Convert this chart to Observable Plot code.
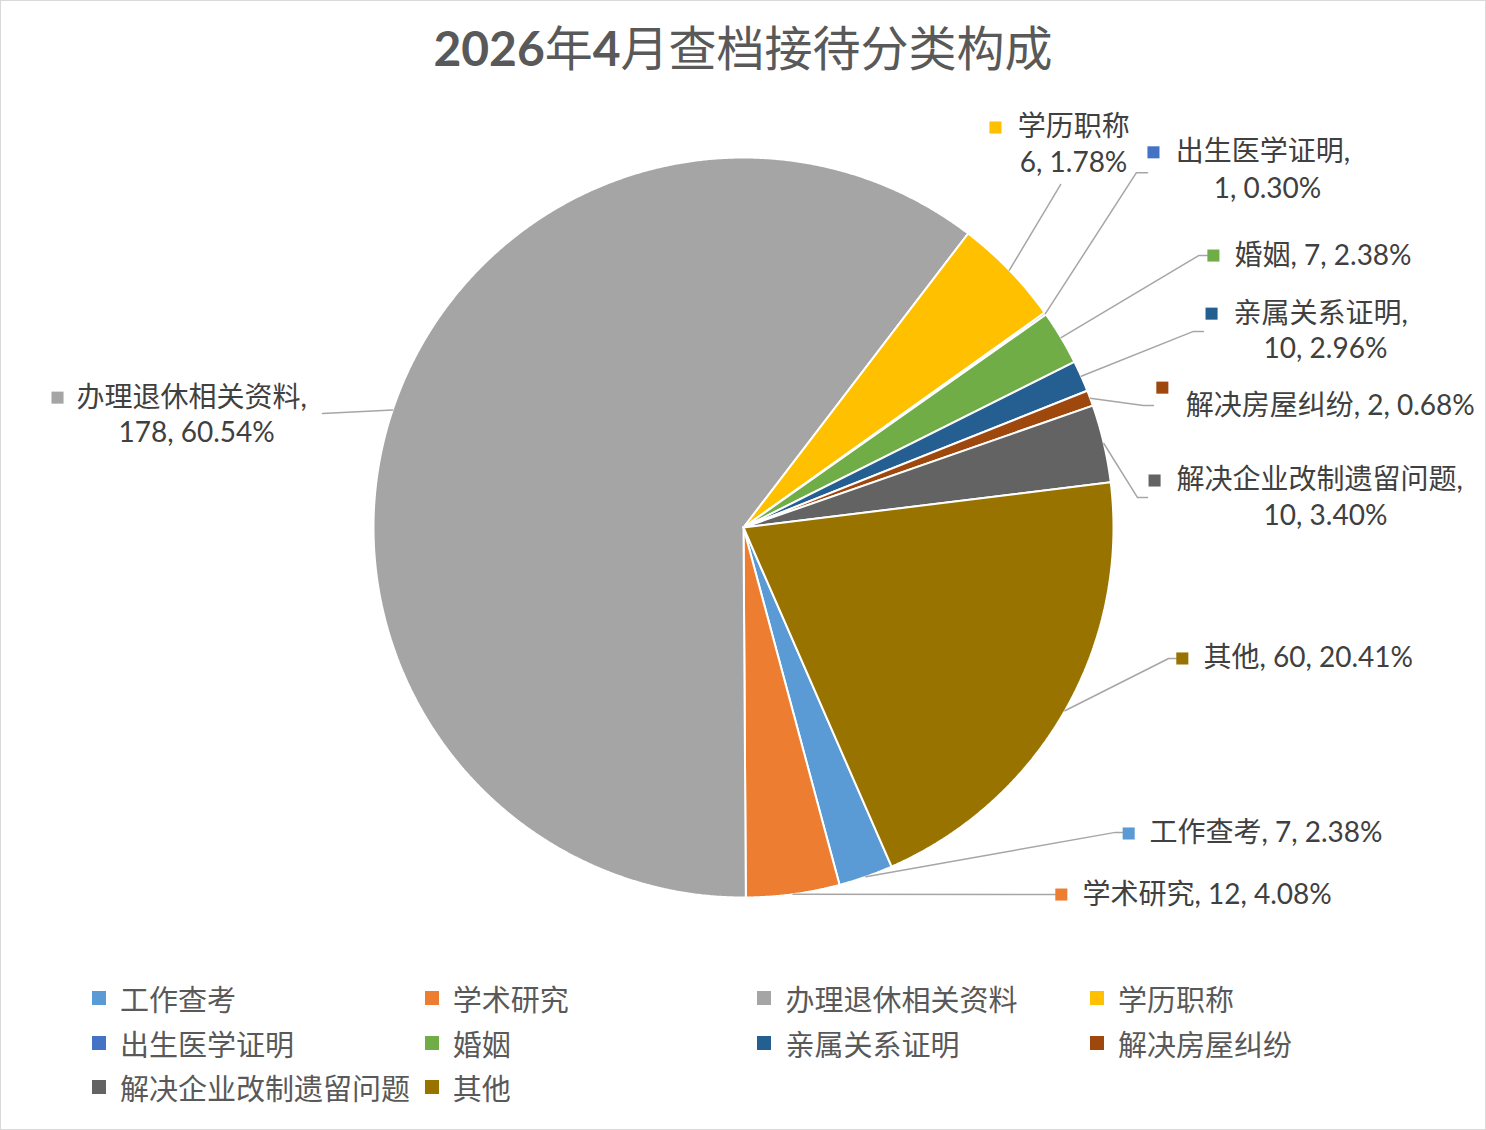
<!DOCTYPE html>
<html>
<head>
<meta charset="utf-8">
<script src="https://cdn.jsdelivr.net/npm/d3@7"></script>
<script src="https://cdn.jsdelivr.net/npm/@observablehq/plot@0.6"></script>
<style>
  body { margin: 0; background: #fff; }
  #chart { position: relative; width: 1486px; height: 1130px; background: #fff; overflow: hidden;
           box-shadow: inset 0 0 0 1px #d9d9d9; font-family: Lato, "Noto Sans CJK SC", sans-serif; }
  #title { position: absolute; left: 0; top: 0; width: 100%; height: 90px; line-height: 90px; text-align: center;
           font-size: 48px; color: #595959; font-family: "Noto Sans CJK SC", sans-serif; font-weight: 400; white-space: nowrap; }
  #title .num { font-family: Lato, "Noto Sans CJK SC", sans-serif; font-weight: 700; }
  #plot { position: absolute; left: 0; top: 95px; }
  #legend { position: absolute; left: 92px; top: 976px; display: grid; grid-template-columns: repeat(4, 332.7px);
            grid-auto-rows: 44.5px; }
  .item { display: flex; align-items: center; font-size: 29px; color: #595959; white-space: nowrap;
          font-family: "Noto Sans CJK SC", sans-serif; }
  .sw { width: 14px; height: 14px; margin-right: 14px; flex: none; }
</style>
</head>
<body>
<div id="chart">
  <div id="title"></div>
  <div id="plot"></div>
  <div id="legend"></div>
</div>
<script>
// ---------- data ----------
const titleText = "2026年4月查档接待分类构成";
const categories = ["工作查考", "学术研究", "办理退休相关资料", "学历职称", "出生医学证明",
                    "婚姻", "亲属关系证明", "解决房屋纠纷", "解决企业改制遗留问题", "其他"];
// counts and percentages as printed in the data labels
const labelCounts = [7, 12, 178, 6, 1, 7, 10, 2, 10, 60];
const labelPercents = ["2.38%", "4.08%", "60.54%", "1.78%", "0.30%", "2.38%", "2.96%", "0.68%", "3.40%", "20.41%"];
// share of the circle each slice actually occupies in the picture (percent)
const sliceShares = [2.38, 4.08, 60.54, 4.76, 0.1, 2.38, 1.36, 0.68, 3.40, 20.41];
const colors = ["#5B9BD5", "#ED7D31", "#A5A5A5", "#FFC000", "#4472C4",
                "#70AD47", "#255E91", "#9E480E", "#636363", "#997300"];
const firstSliceAngle = 156.4; // degrees, clockwise from 12 o'clock

// ---------- label layout (in pie-radius units, centre = 0,0) ----------
// text: start of first line; line2: centre of second line (two-line labels); key: legend-key square;
// leader: bend + end of the leader line (it starts on the slice edge at the slice's mid angle)
const labelLayout = [
  { text: [1.097, -0.827], key: [1.041, -0.827], leader: [[1.005, -0.824], [1.024, -0.824]] },
  { text: [0.916, -0.992], key: [0.859, -0.992], leader: [[0.843, -0.992]] },
  { text: [-1.803, 0.351], line2: [-1.478, 0.254], key: [-1.854, 0.351], leader: [[-1.138, 0.308]] },
  { text: [0.741, 1.081], line2: [0.892, 0.984], key: [0.681, 1.081], leader: [[0.857, 0.927]], noComma: true },
  { text: [1.168, 1.014], line2: [1.416, 0.916], key: [1.108, 1.014], leader: [[1.062, 0.959], [1.092, 0.959]] },
  { text: [1.327, 0.735], key: [1.270, 0.735], leader: [[1.230, 0.735], [1.254, 0.735]] },
  { text: [1.324, 0.578], line2: [1.573, 0.481], key: [1.265, 0.578], leader: [[1.216, 0.530], [1.243, 0.530]] },
  { text: [1.195, 0.327], key: [1.132, 0.378], leader: [[1.081, 0.330], [1.108, 0.330]] },
  { text: [1.170, 0.127], line2: [1.573, 0.030], key: [1.111, 0.127], leader: [[1.065, 0.081], [1.092, 0.081]] },
  { text: [1.243, -0.354], key: [1.186, -0.354], leader: [[1.149, -0.354], [1.170, -0.354]] }
];

// ---------- title ----------
document.getElementById("title").innerHTML =
  titleText.replace(/(\d+)/g, '<span class="num">$1</span>');

// ---------- pie geometry ----------
const a0 = firstSliceAngle * Math.PI / 180;
const arcs = d3.pie().sort(null).value(d => d.share).startAngle(a0).endAngle(a0 + 2 * Math.PI)(
  categories.map((name, i) => ({ name, share: sliceShares[i] }))
);
const pt = (a, r) => ({ x: r * Math.sin(a), y: r * Math.cos(a) });

const pieData = [];
arcs.forEach(arc => {
  const name = arc.data.name;
  pieData.push({ name, ...pt(0, 0) });
  const n = Math.max(2, Math.ceil((arc.endAngle - arc.startAngle) / (Math.PI / 720)));
  for (let k = 0; k <= n; k++) {
    pieData.push({ name, ...pt(arc.startAngle + (arc.endAngle - arc.startAngle) * k / n, 1) });
  }
  pieData.push({ name, ...pt(0, 0) });
});

const leaderData = [], keyData = [], line1Data = [], line2Data = [];
arcs.forEach((arc, i) => {
  const name = arc.data.name, L = labelLayout[i];
  const mid = (arc.startAngle + arc.endAngle) / 2;
  leaderData.push({ name, ...pt(mid, 1) });
  L.leader.forEach(([x, y]) => leaderData.push({ name, x, y }));
  keyData.push({ name, x: L.key[0], y: L.key[1] });
  const tail = `${labelCounts[i]}, ${labelPercents[i]}`;
  if (L.line2) {
    line1Data.push({ x: L.text[0], y: L.text[1], label: name + (L.noComma ? "" : ",") });
    line2Data.push({ x: L.line2[0], y: L.line2[1], label: tail });
  } else {
    line1Data.push({ x: L.text[0], y: L.text[1], label: `${name}, ${tail}` });
  }
});

// ---------- plot ----------
const W = 1486, H = 865, R = 370, CX = 743, CY = 432;
const font = 'Lato, "Noto Sans CJK SC", sans-serif';
const chart = Plot.plot({
  width: W, height: H, margin: 0,
  style: { background: "transparent", overflow: "visible" },
  x: { domain: [-CX / R, (W - CX) / R], axis: null },
  y: { domain: [-(H - CY) / R, CY / R], axis: null },
  color: { domain: categories, range: colors },
  marks: [
    Plot.line(pieData, { x: "x", y: "y", z: "name", fill: "name", stroke: "#ffffff", strokeWidth: 2,
                         strokeLinejoin: "miter", curve: "linear" }),
    Plot.line(leaderData, { x: "x", y: "y", z: "name", stroke: "#A6A6A6", strokeWidth: 1.5, curve: "linear" }),
    Plot.dot(keyData, { x: "x", y: "y", fill: "name", symbol: "square", r: 6.8 }),
    Plot.text(line1Data, { x: "x", y: "y", text: "label", textAnchor: "start", lineAnchor: "middle",
                           fontSize: 28, fill: "#404040", fontFamily: font }),
    Plot.text(line2Data, { x: "x", y: "y", text: "label", textAnchor: "middle", lineAnchor: "middle",
                           fontSize: 28, fill: "#404040", fontFamily: font })
  ]
});
document.getElementById("plot").appendChild(chart);

// ---------- legend ----------
const legend = document.getElementById("legend");
categories.forEach((name, i) => {
  const item = document.createElement("div");
  item.className = "item";
  const sw = document.createElement("span");
  sw.className = "sw";
  sw.style.background = colors[i];
  item.appendChild(sw);
  item.appendChild(document.createTextNode(name));
  legend.appendChild(item);
});
</script>
</body>
</html>
